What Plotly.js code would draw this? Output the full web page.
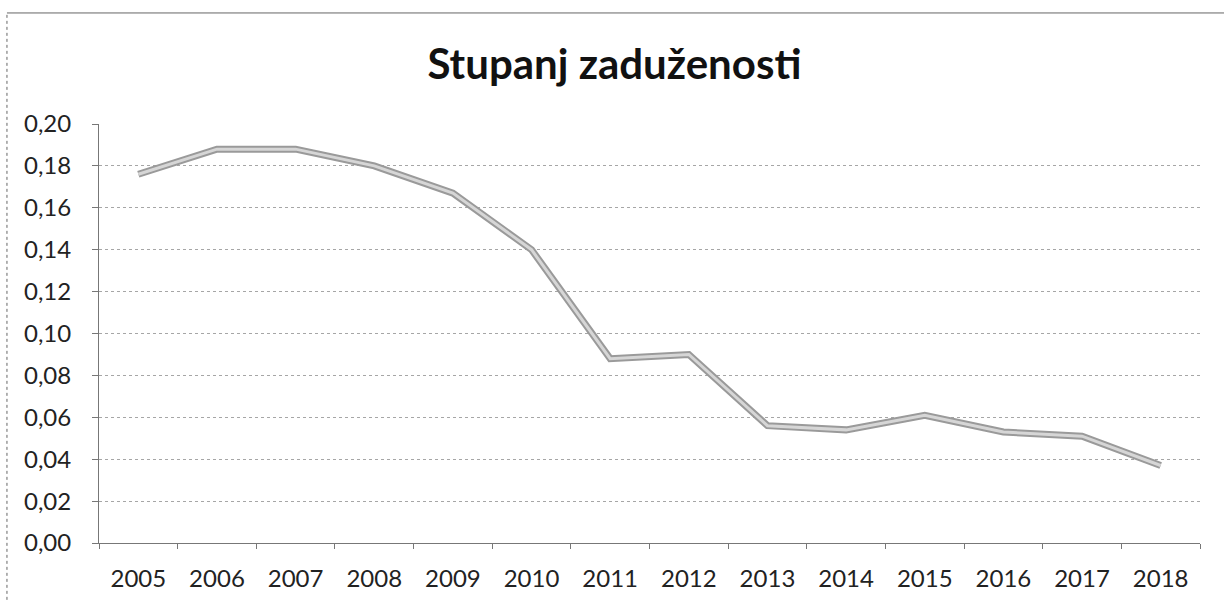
<!DOCTYPE html>
<html>
<head>
<meta charset="utf-8">
<script src="https://cdn.plot.ly/plotly-3.0.1.min.js"></script>
<style>html,body{margin:0;padding:0;background:#fff;}#chart{width:1224px;height:600px;}</style>
</head>
<body>
<div id="chart"></div>
<script>
const years = ["2005","2006","2007","2008","2009","2010","2011","2012","2013","2014","2015","2016","2017","2018"];
const stupanj = [0.176, 0.188, 0.188, 0.180, 0.167, 0.140, 0.088, 0.090, 0.056, 0.054, 0.061, 0.053, 0.051, 0.037];
const yTicks = [0, 0.02, 0.04, 0.06, 0.08, 0.10, 0.12, 0.14, 0.16, 0.18, 0.20];
const titleText = "Stupanj zaduženosti";

const fontFam = "Lato, 'Open Sans', sans-serif";

const traces = [
  {x: years, y: stupanj, type: "scatter", mode: "lines",
   line: {color: "#9a9a9a", width: 7}, hoverinfo: "skip", showlegend: false},
  {x: years, y: stupanj, type: "scatter", mode: "lines",
   line: {color: "#d6d6d6", width: 3}, showlegend: false}
];

const layout = {
  width: 1224, height: 600,
  margin: {l: 99, r: 24, t: 124, b: 57},
  paper_bgcolor: "#ffffff", plot_bgcolor: "#ffffff",
  separators: ", ",
  font: {family: fontFam, color: "#222", size: 24},
  title: {text: titleText, x: 0.502, xanchor: "center", y: 0.893, yanchor: "middle",
          font: {family: fontFam, size: 42, color: "#111", weight: "bold"}},
  xaxis: {type: "category", range: [-0.5, 13.5], tickson: "boundaries",
          ticks: "outside", ticklen: 5, tickcolor: "#777",
          showline: true, linecolor: "#777", linewidth: 1,
          showgrid: false, zeroline: false, fixedrange: true, ticklabelstandoff: 14,
          tickfont: {family: fontFam, size: 24, color: "#222"}},
  yaxis: {range: [0, 0.20], tickvals: yTicks, tickformat: ".2f",
          ticks: "outside", ticklen: 6, tickcolor: "#777",
          showline: true, linecolor: "#777", linewidth: 1,
          showgrid: true, gridcolor: "#a6a6a6", gridwidth: 1, griddash: "dot",
          zeroline: false, fixedrange: true, ticklabelstandoff: 16,
          tickfont: {family: fontFam, size: 24, color: "#222"}},
  shapes: [
    {type: "line", xref: "paper", yref: "paper", x0: -0.0836, x1: 1.03, y0: 1.265, y1: 1.265,
     line: {color: "#666", width: 1}},
    {type: "line", xref: "paper", yref: "paper", x0: -0.0836, x1: -0.0836, y0: -0.15, y1: 1.265,
     line: {color: "#666", width: 1, dash: "dot"}}
  ]
};

Plotly.newPlot("chart", traces, layout, {displayModeBar: false, staticPlot: true});
</script>
</body>
</html>
